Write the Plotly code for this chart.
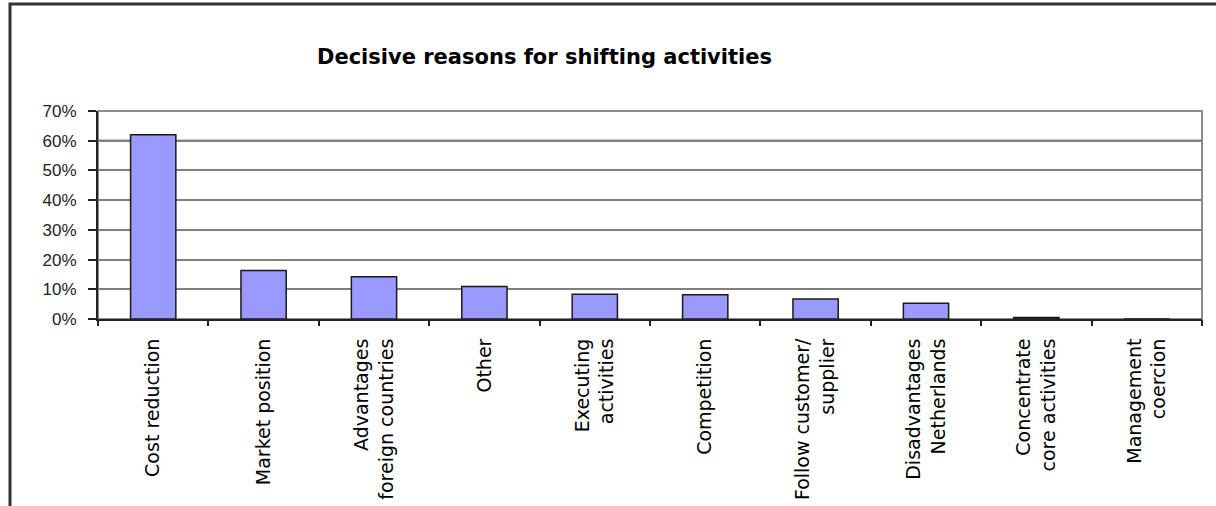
import plotly.graph_objects as go

categories = [
    "Cost reduction",
    "Market position",
    "Advantages<br>foreign countries",
    "Other",
    "Executing<br>activities",
    "Competition",
    "Follow customer/<br>supplier",
    "Disadvantages<br>Netherlands",
    "Concentrate<br>core activities",
    "Management<br>coercion",
]
values = [0.62, 0.163, 0.142, 0.109, 0.083, 0.082, 0.067, 0.053, 0.005, 0.0]
y_ticks = [0, 0.1, 0.2, 0.3, 0.4, 0.5, 0.6, 0.7]
y_ticklabels = ["0%", "10%", "20%", "30%", "40%", "50%", "60%", "70%"]
title_text = "Decisive reasons for shifting activities"

W, H = 1216, 506
L, R, T, B = 98, 14, 111, 187
pw, ph = W - L - R, H - T - B

fig = go.Figure()
fig.add_trace(go.Bar(
    x=categories, y=values,
    marker=dict(color="#9999FF", line=dict(color="#1a1a1a", width=1.5)),
    width=0.41,
))
# invisible twin trace, only to carry the tick-mark axis
fig.add_trace(go.Bar(
    x=categories, y=values, xaxis="x2", opacity=0,
    hoverinfo="skip", showlegend=False, width=0.41,
))

shapes = [
    dict(type="rect", xref="paper", yref="paper", x0=0, x1=1, y0=0, y1=1,
         line=dict(color="#8c8c8c", width=2), layer="below"),
    dict(type="line", xref="paper", yref="y", x0=0, x1=1, y0=0.6, y1=0.6,
         line=dict(color="#222222", width=2), layer="below"),
    dict(type="rect", xref="paper", yref="paper",
         x0=(10 - L) / pw, x1=(1240 - L) / pw,
         y0=-(540 - (H - B)) / ph, y1=1 + (T - 4) / ph,
         line=dict(color="#333333", width=3)),
]

fig.update_layout(
    width=W, height=H,
    margin=dict(l=L, r=R, t=T, b=B, pad=0),
    paper_bgcolor="white", plot_bgcolor="white",
    showlegend=False,
    shapes=shapes,
    annotations=[dict(
        text="<b>" + title_text + "</b>", xref="paper", yref="paper",
        x=(544 - L) / pw, y=1 + (T - 57) / ph, xanchor="center", yanchor="middle",
        showarrow=False,
        font=dict(family="DejaVu Sans", size=21, color="#000000"),
    )],
    xaxis=dict(
        type="category",
        tickangle=-90,
        tickfont=dict(family="DejaVu Sans", size=19, color="#000000"),
        ticks="",
        showline=True, linecolor="#222222", linewidth=2,
        showgrid=False, automargin=False,
        ticklabelstandoff=10,
    ),
    xaxis2=dict(
        type="category", overlaying="x", side="bottom", matches="x",
        showticklabels=False,
        ticks="outside", ticklen=6, tickwidth=2, tickcolor="#222222",
        tickson="boundaries",
        showline=False, showgrid=False, automargin=False,
    ),
    yaxis=dict(
        range=[0, 0.7],
        tickvals=y_ticks, ticktext=y_ticklabels,
        tickfont=dict(family="Liberation Sans", size=17, color="#222222"),
        ticks="outside", ticklen=8, tickwidth=2, tickcolor="#222222",
        showline=True, linecolor="#222222", linewidth=2,
        showgrid=True, gridcolor="#7f7f7f", gridwidth=1.5,
        zeroline=False, automargin=False,
        ticklabelstandoff=8,
    ),
)

fig.write_html("out.html")
